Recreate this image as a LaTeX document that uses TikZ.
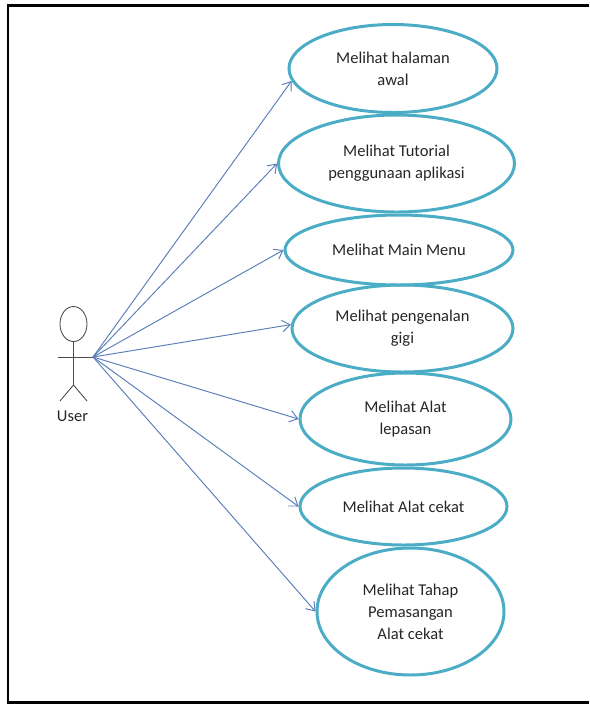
\documentclass[tikz,border=0pt]{standalone}
\usepackage{fontspec}
\setmainfont{Carlito}
\usetikzlibrary{shapes.geometric,arrows.meta}
\definecolor{ucteal}{HTML}{4BACC6}
\definecolor{linkblue}{HTML}{5B7FB8}

\tikzset{
  usecase/.style n args={2}{ellipse, draw=ucteal, line width=1.7pt, inner sep=0pt,
    minimum width=#1*0.02cm, minimum height=#2*0.02cm,
    align=center, text=black!85, font=\fontsize{9.4}{12.5}\selectfont},
  assocline/.style={draw=linkblue, line width=0.55pt,
    -{Straight Barb[length=4.5pt,width=6.5pt]}},
  actor/.style={draw=black!70, line width=0.5pt}
}

\begin{document}
\begin{tikzpicture}[x=0.02cm, y=-0.02cm]
      \useasboundingbox (0,0) rectangle (589,704);
      \draw[line width=1.3pt] (589,5.5) -- (8,5.5) -- (8,702.5) -- (589,702.5);

      % actor
      \draw[actor] (73.5,324) ellipse [x radius=13.5, y radius=17.5];
      \draw[actor] (73.5,341.5) -- (73.5,385);
      \draw[actor] (58,357) -- (93,357);
      \draw[actor] (60,401) -- (73.5,385) -- (87,401);
      \node[font=\fontsize{9.4}{12.5}\selectfont, text=black!85] (user) at (72.5,416) {User};
      \coordinate (hand) at (93,357);

      % use cases
      \node[usecase={208}{88}] (e1) at (393,68.5) {Melihat halaman\\awal};
      \node[usecase={236}{97}] (e2) at (396.5,163.5) {Melihat Tutorial\\penggunaan aplikasi};
      \node[usecase={228}{70}] (e3) at (399,250) {Melihat Main Menu};
      \node[usecase={221}{87}] (e4) at (402.5,328.5) {Melihat pengenalan\\gigi};
      \node[usecase={211}{92}] (e5) at (405.5,419) {Melihat Alat\\lepasan};
      \node[usecase={207}{77}] (e6) at (403.5,506.5) {Melihat Alat cekat};
      \node[usecase={187}{127}] (e7) at (410.5,611.5) {Melihat Tahap\\Pemasangan\\Alat cekat};

      \foreach \e/\a in {e1/187, e2/west, e3/west, e4/178, e5/west, e6/west, e7/west} {
        \draw[assocline] (hand) -- (\e.\a);
      }
    \end{tikzpicture}
\end{document}
